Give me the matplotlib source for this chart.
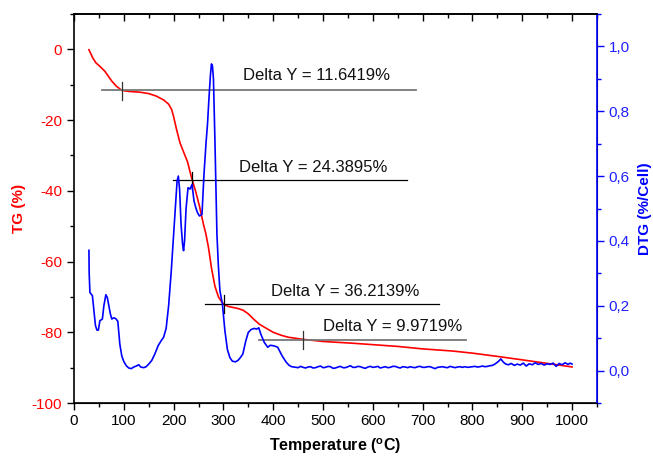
import matplotlib
matplotlib.use("Agg")
import matplotlib.pyplot as plt
from matplotlib.ticker import MultipleLocator, FuncFormatter

plt.rcParams['font.family'] = ['Liberation Sans', 'DejaVu Sans']
plt.rcParams['mathtext.fontset'] = 'custom'
plt.rcParams['mathtext.rm'] = 'Liberation Sans'
plt.rcParams['mathtext.bf'] = 'Liberation Sans:bold'
plt.rcParams['axes.unicode_minus'] = False

# ---- TG curve (left axis) ----
tg_temp = [30, 38, 44, 52, 62, 70, 76, 85, 96, 110, 132, 150, 165, 180, 190, 196,
           200, 206, 213, 220, 228, 236, 244, 252, 260, 265, 270, 276, 283, 290,
           296, 302, 310, 320, 330, 340, 350, 360, 372, 385, 400, 415, 430, 445,
           460, 500, 560, 650, 700, 760, 800, 854, 900, 950, 1000]
tg_val = [-0.1, -2.5, -3.8, -4.8, -6.2, -7.8, -9.0, -10.4, -11.6, -11.9, -12.1, -12.5,
          -13.2, -14.3, -15.5, -17.0, -19.0, -22.7, -26.5, -29.0, -31.8, -36.3, -40.0,
          -44.4, -49.5, -52.3, -56.0, -61.8, -67.0, -70.0, -71.3, -72.2, -72.7, -73.0,
          -73.3, -73.8, -74.8, -76.2, -77.7, -78.8, -80.0, -80.8, -81.4, -81.7, -82.0,
          -82.6, -83.1, -84.0, -84.7, -85.3, -85.9, -86.9, -87.8, -88.8, -89.8]

# ---- DTG curve (right axis) ----
dtg_temp = [30, 30.5, 32, 35, 37, 40, 43, 46, 49, 52, 57, 60, 64, 67, 70, 73, 76, 80,
            84, 88, 92, 96, 100, 105, 110, 115, 120, 125, 130, 134, 140, 145, 150, 156,
            162, 169, 175, 180, 185, 190, 195, 200, 204, 207, 209.5, 212, 215, 218, 220,
            222, 225, 229, 233, 237, 241, 245, 248, 252, 257, 261, 265, 268, 271, 274,
            276, 278, 280, 283, 287, 290, 293, 298, 303, 308, 313, 318, 324, 329, 334,
            339, 345, 350, 356, 362, 367, 371, 375, 382, 389, 394, 399, 404, 409, 413,
            418, 426, 432, 437, 446,
            450, 455, 460, 465, 470, 475, 480, 485, 490, 495, 500, 505, 510, 515, 520,
            525, 530, 535, 540, 545, 550, 555, 560, 565, 570, 575, 580, 585, 590, 595,
            600, 605, 610, 615, 620, 625, 630, 635, 640, 645, 650, 655, 660, 665, 670,
            675, 680, 685, 690, 695, 700, 705, 710, 715, 720, 725, 730, 735, 740, 745,
            750, 755, 760, 765, 770, 775, 780, 785, 790, 795, 800, 805, 810, 815, 820,
            825, 830, 835, 840, 845, 852, 857, 862, 867, 872, 878, 884, 890, 896, 902,
            908, 914, 920, 926, 932, 938, 944, 950, 956, 962, 968, 974, 980, 986, 992,
            996, 1000]
dtg_val = [0.371, 0.30, 0.241, 0.235, 0.231, 0.185, 0.14, 0.125, 0.125, 0.154, 0.159,
           0.20, 0.234, 0.225, 0.200, 0.175, 0.159, 0.163, 0.160, 0.152, 0.082, 0.045,
           0.028, 0.015, 0.008, 0.006, 0.011, 0.014, 0.018, 0.011, 0.009, 0.012, 0.020,
           0.031, 0.050, 0.077, 0.092, 0.103, 0.13, 0.20, 0.30, 0.42, 0.52, 0.585, 0.60,
           0.56, 0.45, 0.39, 0.37, 0.40, 0.50, 0.564, 0.560, 0.574, 0.523, 0.50, 0.487,
           0.477, 0.482, 0.605, 0.70, 0.759, 0.84, 0.913, 0.946, 0.94, 0.90, 0.708, 0.42,
           0.32, 0.246, 0.205, 0.123, 0.065, 0.040, 0.029, 0.027, 0.031, 0.040, 0.051,
           0.092, 0.118, 0.127, 0.130, 0.128, 0.132, 0.113, 0.087, 0.072, 0.078, 0.077,
           0.075, 0.072, 0.060, 0.045, 0.026, 0.016, 0.012, 0.010,
           0.009, 0.013, 0.010, 0.008, 0.011, 0.012, 0.008, 0.009, 0.012, 0.014, 0.009,
           0.010, 0.013, 0.012, 0.007, 0.008, 0.011, 0.013, 0.009, 0.009, 0.012, 0.015,
           0.010, 0.010, 0.013, 0.012, 0.009, 0.007, 0.011, 0.013, 0.010, 0.011, 0.013,
           0.008, 0.010, 0.012, 0.009, 0.010, 0.013, 0.013, 0.010, 0.008, 0.012, 0.011,
           0.009, 0.012, 0.010, 0.009, 0.012, 0.013, 0.010, 0.010, 0.012, 0.012, 0.009,
           0.006, 0.010, 0.011, 0.012, 0.010, 0.009, 0.013, 0.011, 0.009, 0.011, 0.012,
           0.010, 0.012, 0.010, 0.011, 0.012, 0.013, 0.011, 0.012, 0.014, 0.012, 0.013,
           0.015, 0.016, 0.020, 0.028, 0.036, 0.026, 0.020, 0.018, 0.022, 0.016, 0.020,
           0.017, 0.023, 0.014, 0.021, 0.018, 0.024, 0.019, 0.022, 0.017, 0.021, 0.019,
           0.023, 0.013, 0.022, 0.018, 0.024, 0.019, 0.023, 0.020]

# ---- Delta Y annotations ----
ann_labels = ["Delta Y = 11.6419%", "Delta Y = 24.3895%", "Delta Y = 36.2139%", "Delta Y = 9.9719%"]
ann_line_y = [-11.6, -37.0, -72.0, -82.1]
ann_line_x0 = [57, 198, 264, 372]
ann_line_x1 = [687, 668, 733, 788]
ann_tick_x = [95.6, 237, 301, 459]
ann_text_x = [487, 481, 544, 639]
ann_text_y = [-7.5, -33.5, -68.5, -78.5]
ann_colors = ["#777777", "black", "black", "#777777"]
ann_lw = [1.3, 0.9, 0.9, 1.3]

x_ticks = list(range(0, 1001, 100))

fig = plt.figure(figsize=(6.53, 4.59), dpi=100)
ax = fig.add_axes([0.1133, 0.122, 0.9142 - 0.1133, 0.9695 - 0.122])
ax2 = ax.twinx()

ax.plot(tg_temp, tg_val, color='#ff0000', lw=1.2, zorder=3)
ax2.plot(dtg_temp, dtg_val, color='#0000ff', lw=1.2, zorder=2)

for lab, y, x0, x1, tx, txx, txy, c, lw in zip(ann_labels, ann_line_y, ann_line_x0, ann_line_x1,
                                               ann_tick_x, ann_text_x, ann_text_y, ann_colors, ann_lw):
    ax.plot([x0, x1], [y, y], color=c, lw=lw, zorder=4)
    ax.plot([tx, tx], [y + 2.4, y - 2.6], color=c if c == 'black' else '#333333', lw=0.9, zorder=4)
    ax.text(txx, txy, lab, ha='center', va='center', fontsize=12, color='#111111', zorder=5)

ax.set_xlim(0, 1050)
ax.set_ylim(-100, 10)
ax2.set_ylim(-0.1, 1.1)

ax.set_xticks(x_ticks)
ax.xaxis.set_minor_locator(MultipleLocator(50))
ax.yaxis.set_minor_locator(MultipleLocator(10))
ax.set_yticks([0, -20, -40, -60, -80, -100])
ax2.set_yticks([0.0, 0.2, 0.4, 0.6, 0.8, 1.0])
ax2.yaxis.set_minor_locator(MultipleLocator(0.1))
ax2.yaxis.set_major_formatter(FuncFormatter(lambda v, p: f"{v:.1f}".replace('.', ',')))

ax.tick_params(axis='x', which='both', direction='out', top=True, labelsize=11, pad=3)
ax.tick_params(axis='x', which='major', length=5, width=1)
ax.tick_params(axis='x', which='minor', length=3, width=1)
ax.tick_params(axis='y', which='major', direction='out', length=5, width=1,
               colors='black', labelcolor='#ff0000', labelsize=11)
ax.tick_params(axis='y', which='minor', direction='out', length=3, width=1)
ax2.tick_params(axis='y', which='major', direction='out', length=5, width=1,
                colors='#0000ff', labelcolor='#2020ff', labelsize=11)
ax2.tick_params(axis='y', which='minor', direction='out', length=3, width=1, colors='#0000ff')

# top ticks inward
for tick in ax.xaxis.get_major_ticks() + ax.xaxis.get_minor_ticks():
    tick.tick2line.set_marker(matplotlib.lines.TICKDOWN)

for s in ['left', 'bottom', 'top']:
    ax.spines[s].set_linewidth(1.2)
ax2.spines['right'].set_color('#0000ff')
ax2.spines['right'].set_linewidth(1.2)
ax2.spines['left'].set_visible(False)
ax2.spines['top'].set_linewidth(1.2)

ax.set_ylabel("TG (%)", color='#ff0000', fontsize=11, fontweight='bold', labelpad=4)
ax2.set_ylabel("DTG (%/Cell)", color='#0000ff', fontsize=11, fontweight='bold', labelpad=6)
ax.set_xlabel(r"Temperature ($\mathbf{^{o}}$C)", fontsize=11.5, fontweight='bold', labelpad=6)

fig.savefig("out.png", dpi=100)
